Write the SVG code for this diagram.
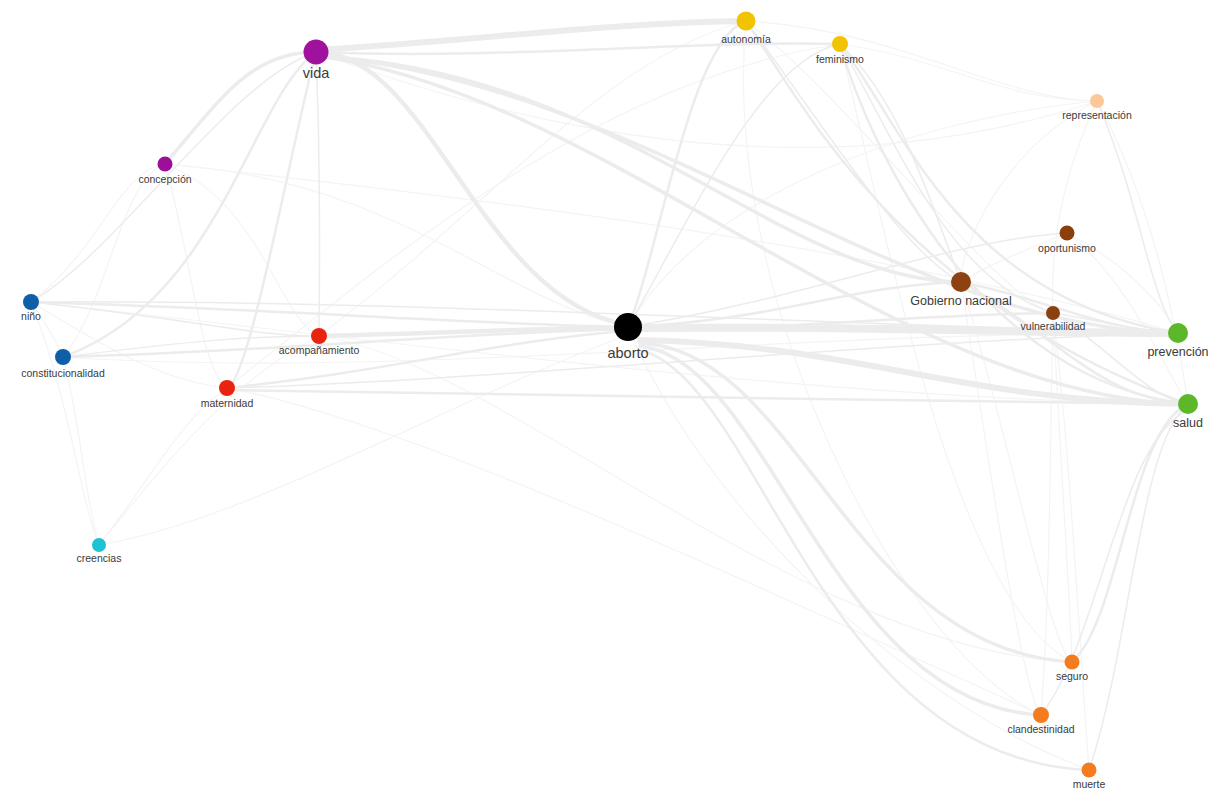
<svg xmlns="http://www.w3.org/2000/svg" width="1226" height="791" viewBox="0 0 1226 791">
<style>
.e{fill:none;stroke:#ececec;stroke-linecap:round}
.t{fill:none;stroke:#f4f4f4;stroke-width:1.2}
.w1{stroke-width:1.5}.w2{stroke-width:2.5}.w3{stroke-width:3.5}.w4{stroke-width:4.5}.w5{stroke-width:6}.w6{stroke-width:8}
text{font-family:"Liberation Sans",Arial,sans-serif;fill:#3a3a3a;text-anchor:middle}
.s{font-size:10.5px}.m{font-size:12.5px}.l{font-size:14.5px}
</style>
<rect width="1226" height="791" fill="#fff"/>
<g id="connectors">
<path class="t" d="M31,302 C100,250 120,170 165,164"/>
<path class="t" d="M63,357 C110,300 120,180 165,164"/>
<path class="t" d="M165,164 C260,200 280,320 319,336"/>
<path class="t" d="M165,164 C400,180 500,300 628,327"/>
<path class="t" d="M165,164 C190,250 200,370 227,388"/>
<path class="t" d="M31,302 C80,330 150,380 227,388"/>
<path class="t" d="M31,302 C50,330 55,340 63,357"/>
<path class="t" d="M63,357 C80,420 85,500 99,545"/>
<path class="t" d="M31,302 C70,400 80,500 99,545"/>
<path class="t" d="M99,545 C250,520 450,400 628,335"/>
<path class="t" d="M99,545 C150,480 180,420 227,388"/>
<path class="t" d="M99,545 C160,470 230,380 319,336"/>
<path class="t" d="M227,388 C400,420 700,560 1041,715"/>
<path class="t" d="M319,336 C500,360 800,650 1072,662"/>
<path class="t" d="M628,327 C700,200 900,120 1097,101"/>
<path class="t" d="M840,44 C950,60 1000,100 1097,101"/>
<path class="t" d="M746,21 C900,30 1000,100 1097,101"/>
<path class="t" d="M1097,101 C1060,180 1050,250 1053,313"/>
<path class="t" d="M1097,101 C1000,150 960,250 961,282"/>
<path class="t" d="M1097,101 C1140,180 1170,280 1188,404"/>
<path class="t" d="M1067,233 C1120,260 1160,300 1178,333"/>
<path class="t" d="M1067,233 C1130,280 1170,380 1188,404"/>
<path class="t" d="M1067,233 C1000,260 980,270 961,282"/>
<path class="t" d="M1053,313 C1050,450 1050,600 1041,715"/>
<path class="t" d="M1053,313 C1060,450 1070,600 1072,662"/>
<path class="t" d="M1053,313 C1070,450 1080,650 1089,770"/>
<path class="t" d="M961,282 C1000,400 1050,650 1072,662"/>
<path class="t" d="M961,282 C980,400 1020,690 1041,715"/>
<path class="t" d="M840,44 C880,200 950,600 1072,662"/>
<path class="t" d="M746,21 C720,300 900,650 1041,715"/>
<path class="t" d="M628,327 C700,500 900,700 1089,770"/>
<path class="t" d="M316,52 C500,120 800,200 1097,101"/>
<path class="t" d="M31,302 C300,330 800,400 1188,404"/>
<path class="t" d="M63,357 C400,380 800,330 1178,333"/>
<path class="t" d="M165,164 C500,200 900,250 1178,333"/>
<path class="t" d="M746,21 C850,100 1000,300 1053,313"/>
<path class="t" d="M319,336 C500,200 600,60 746,21"/>
<path class="t" d="M227,388 C400,250 600,80 840,44"/>
<path class="e w1" d="M316,52 C320,150 320,250 319,336"/>
<path class="e w2" d="M316,52 C290,150 250,380 227,388"/>
<path class="e w2" d="M316,52 C250,100 220,300 63,357"/>
<path class="e w1" d="M316,52 C230,80 120,250 31,302"/>
<path class="e w3" d="M165,164 C220,100 250,52 316,52"/>
<path class="e w2" d="M316,52 C500,60 700,40 840,44"/>
<path class="e w2" d="M840,44 C900,120 960,300 1178,333"/>
<path class="e w2" d="M840,44 C870,150 980,380 1188,404"/>
<path class="e w1" d="M840,44 C900,150 950,280 1053,313"/>
<path class="e w1" d="M840,44 C900,100 930,200 961,282"/>
<path class="e w2" d="M746,21 C800,100 900,300 1188,404"/>
<path class="e w1" d="M746,21 C820,120 900,250 961,282"/>
<path class="e w2" d="M1072,662 C1120,620 1130,430 1188,404"/>
<path class="e w1" d="M1089,770 C1130,650 1140,440 1188,404"/>
<path class="e w1" d="M1041,715 C1100,640 1120,440 1188,410"/>
<path class="e w1" d="M1097,101 C1140,200 1150,300 1178,333"/>
<path class="e w2" d="M961,282 C1050,300 1100,330 1178,333"/>
<path class="e w2" d="M961,282 C1050,330 1100,400 1188,404"/>
<path class="e w1" d="M1053,313 C1100,320 1140,333 1178,333"/>
<path class="e w1" d="M1053,313 C1100,340 1150,400 1188,404"/>
<path class="e w2" d="M31,302 C300,310 420,322 628,327"/>
<path class="e w2" d="M63,357 C300,350 420,335 628,329"/>
<path class="e w2" d="M227,388 C400,370 500,340 628,331"/>
<path class="e w1" d="M31,302 C200,320 250,336 319,336"/>
<path class="e w1" d="M63,357 C200,340 250,336 319,336"/>
<path class="e w1" d="M31,302 C400,300 700,320 1178,333"/>
<path class="e w2" d="M628,327 C660,250 690,40 746,21"/>
<path class="e w1" d="M628,327 C690,220 760,60 840,44"/>
<path class="e w2" d="M628,327 C780,320 850,285 961,282"/>
<path class="e w2" d="M628,329 C800,330 900,315 1053,313"/>
<path class="e w1" d="M628,327 C800,300 950,240 1067,233"/>
<path class="e w2" d="M227,390 C500,395 900,400 1188,404"/>
<path class="e w1" d="M227,388 C500,380 900,340 1178,333"/>
<path class="e w4" d="M319,336 C450,333 520,329 628,327"/>
<path class="e w4" d="M316,52 C430,52 480,300 628,325"/>
<path class="e w5" d="M316,50 C480,40 620,22 746,21"/>
<path class="e w3" d="M316,56 C620,70 780,280 961,282"/>
<path class="e w3" d="M316,56 C640,80 900,330 1178,333"/>
<path class="e w3" d="M316,56 C600,90 900,400 1188,404"/>
<path class="e w3" d="M640,343 C800,350 850,650 1072,662"/>
<path class="e w3" d="M640,346 C770,360 830,705 1041,715"/>
<path class="e w2" d="M640,350 C760,380 820,760 1089,770"/>
<path class="e w6" d="M640,328 C900,326 1000,333 1178,333"/>
<path class="e w5" d="M640,340 C860,345 960,402 1188,404"/>
</g>
<g id="n-vida"><circle cx="316" cy="52" r="12.5" fill="#a0119e"/><text class="l" x="316" y="78">vida</text></g>
<g id="n-autonomia"><circle cx="746" cy="21" r="9.5" fill="#f2c300"/><text class="s" x="746" y="43">autonomía</text></g>
<g id="n-feminismo"><circle cx="840" cy="44" r="8" fill="#f2c300"/><text class="s" x="840" y="63">feminismo</text></g>
<g id="n-representacion"><circle cx="1097" cy="101" r="7" fill="#fcc898"/><text class="s" x="1097" y="119">representación</text></g>
<g id="n-concepcion"><circle cx="165" cy="164" r="7.5" fill="#9b0f9b"/><text class="s" x="165" y="183">concepción</text></g>
<g id="n-oportunismo"><circle cx="1067" cy="233" r="7.5" fill="#8b3f0b"/><text class="s" x="1067" y="252">oportunismo</text></g>
<g id="n-gobierno"><circle cx="961" cy="282" r="10" fill="#8f4211"/><text class="m" x="961" y="305">Gobierno nacional</text></g>
<g id="n-vulnerabilidad"><circle cx="1053" cy="313" r="7" fill="#8b4010"/><text class="s" x="1053" y="330">vulnerabilidad</text></g>
<g id="n-aborto"><circle cx="628" cy="327" r="14" fill="#000"/><text class="l" x="628" y="358">aborto</text></g>
<g id="n-prevencion"><circle cx="1178" cy="333" r="10" fill="#5cb82a"/><text class="m" x="1178" y="356">prevención</text></g>
<g id="n-salud"><circle cx="1188" cy="404" r="10" fill="#5cb82a"/><text class="m" x="1188" y="427">salud</text></g>
<g id="n-nino"><circle cx="31" cy="302" r="8" fill="#0f5fa8"/><text class="s" x="31" y="320">niño</text></g>
<g id="n-constitucionalidad"><circle cx="63" cy="357" r="8" fill="#0f5fa8"/><text class="s" x="63" y="377">constitucionalidad</text></g>
<g id="n-acompanamiento"><circle cx="319" cy="336" r="8" fill="#e8230f"/><text class="s" x="319" y="354">acompañamiento</text></g>
<g id="n-maternidad"><circle cx="227" cy="388" r="8" fill="#e8230f"/><text class="s" x="227" y="407">maternidad</text></g>
<g id="n-creencias"><circle cx="99" cy="545" r="7" fill="#1ec3d3"/><text class="s" x="99" y="562">creencias</text></g>
<g id="n-seguro"><circle cx="1072" cy="662" r="7.5" fill="#f47b1e"/><text class="s" x="1072" y="680">seguro</text></g>
<g id="n-clandestinidad"><circle cx="1041" cy="715" r="8" fill="#f47b1e"/><text class="s" x="1041" y="733">clandestinidad</text></g>
<g id="n-muerte"><circle cx="1089" cy="770" r="7.5" fill="#f47b1e"/><text class="s" x="1089" y="788">muerte</text></g>
</svg>
